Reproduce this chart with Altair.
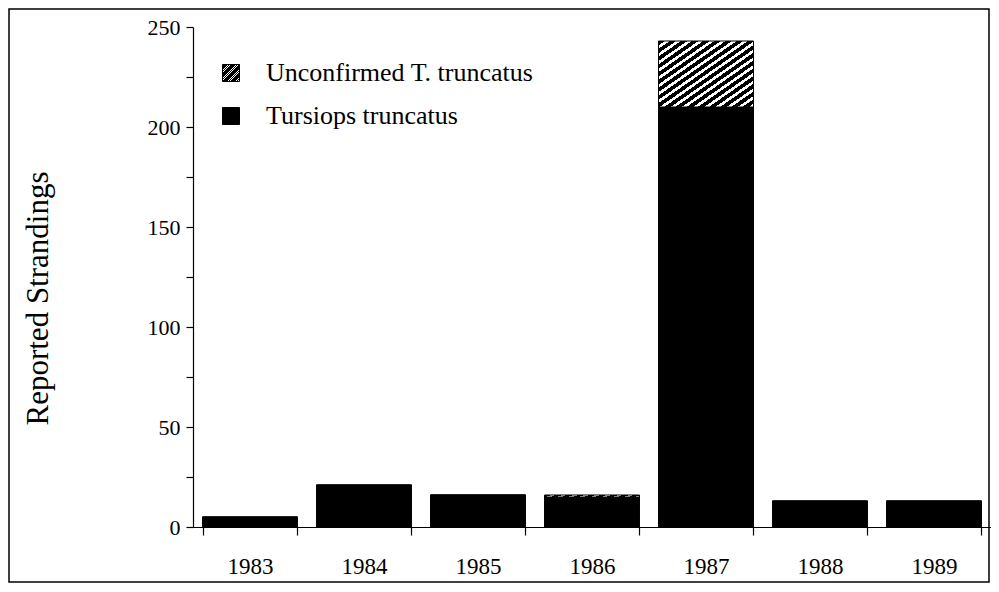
import altair as alt
import pandas as pd

years = ["1983", "1984", "1985", "1986", "1987", "1988", "1989"]
tursiops = [5, 21, 16, 15, 210, 13, 13]
unconfirmed = [0, 0, 0, 1, 33, 0, 0]
series = ["Unconfirmed T. truncatus", "Tursiops truncatus"]

rows = []
for y, t, u in zip(years, tursiops, unconfirmed):
    rows.append({"year": y, "type": series[1], "n": t, "ord": 0})
    rows.append({"year": y, "type": series[0], "n": u, "ord": 1})
df = pd.DataFrame(rows)

# diagonal hatch as a hard-stop linear gradient
n_stripes = 17
stops = []
for i in range(n_stripes):
    a = i / n_stripes
    b = (i + 0.58) / n_stripes
    c = (i + 1) / n_stripes
    stops.append("{offset:%.4f,color:'black'}" % a)
    stops.append("{offset:%.4f,color:'black'}" % b)
    stops.append("{offset:%.4f,color:'white'}" % b)
    stops.append("{offset:%.4f,color:'white'}" % c)
hatch_expr = "{gradient:'linear',x1:0,y1:0,x2:1,y2:1,stops:[" + ",".join(stops) + "]}"

FONT = "Liberation Serif"
W, H = 798, 500
LEFT = 185

bars = alt.Chart(df).mark_bar(stroke="black", strokeWidth=1).encode(
    x=alt.X("year:N", sort=years, title=None,
            scale=alt.Scale(paddingInner=0.167, paddingOuter=0.0835),
            axis=alt.Axis(labelAngle=0, tickBand="extent", tickSize=8,
                          labelPadding=20, labelFontSize=23, labelFont=FONT,
                          labelColor="black", domainColor="black", tickColor="black",
                          domainWidth=1.2, tickWidth=1.2)),
    y=alt.Y("n:Q", stack="zero", title="Reported Strandings",
            scale=alt.Scale(domain=[0, 250], nice=False),
            axis=alt.Axis(values=list(range(0, 251, 25)),
                          labelExpr="datum.value % 50 == 0 ? datum.label : ''",
                          tickSize=7, labelPadding=6, labelFontSize=22, labelFont=FONT,
                          labelColor="black", domainColor="black", tickColor="black",
                          domainWidth=1.2, tickWidth=1.2, grid=False,
                          titleFont=FONT, titleFontSize=31, titleFontWeight="normal",
                          titleColor="black", titlePadding=93,
                          titleY=271, titleAlign="center")),
    color=alt.Color("type:N", title=None,
                    scale=alt.Scale(domain=series,
                                    range=[alt.ExprRef(expr=hatch_expr), "black"]),
                    legend=alt.Legend(orient="none", legendX=25, legendY=33,
                                      symbolType="square", symbolSize=289,
                                      symbolStrokeColor="black", symbolStrokeWidth=1,
                                      labelFont=FONT, labelFontSize=26, labelColor="black",
                                      labelOffset=22, rowPadding=17, padding=0,
                                      labelLimit=400)),
    order=alt.Order("ord:Q"),
)

frame = alt.Chart(pd.DataFrame({"k": [0]})).mark_rect(
    fill=None, stroke="black", strokeWidth=1.5
).encode(
    x=alt.value(-(LEFT - 1)), x2=alt.value(W - 2),
    y=alt.value(-18), y2=alt.value(H + 55),
)

chart = alt.layer(bars, frame).properties(
    width=W, height=H,
    padding={"left": LEFT, "top": 19, "right": 0, "bottom": 57},
    autosize=alt.AutoSizeParams(type="none"),
    background="white",
).configure_view(stroke=None)

chart.save("out.html", embed_options={"renderer": "svg", "actions": False})
